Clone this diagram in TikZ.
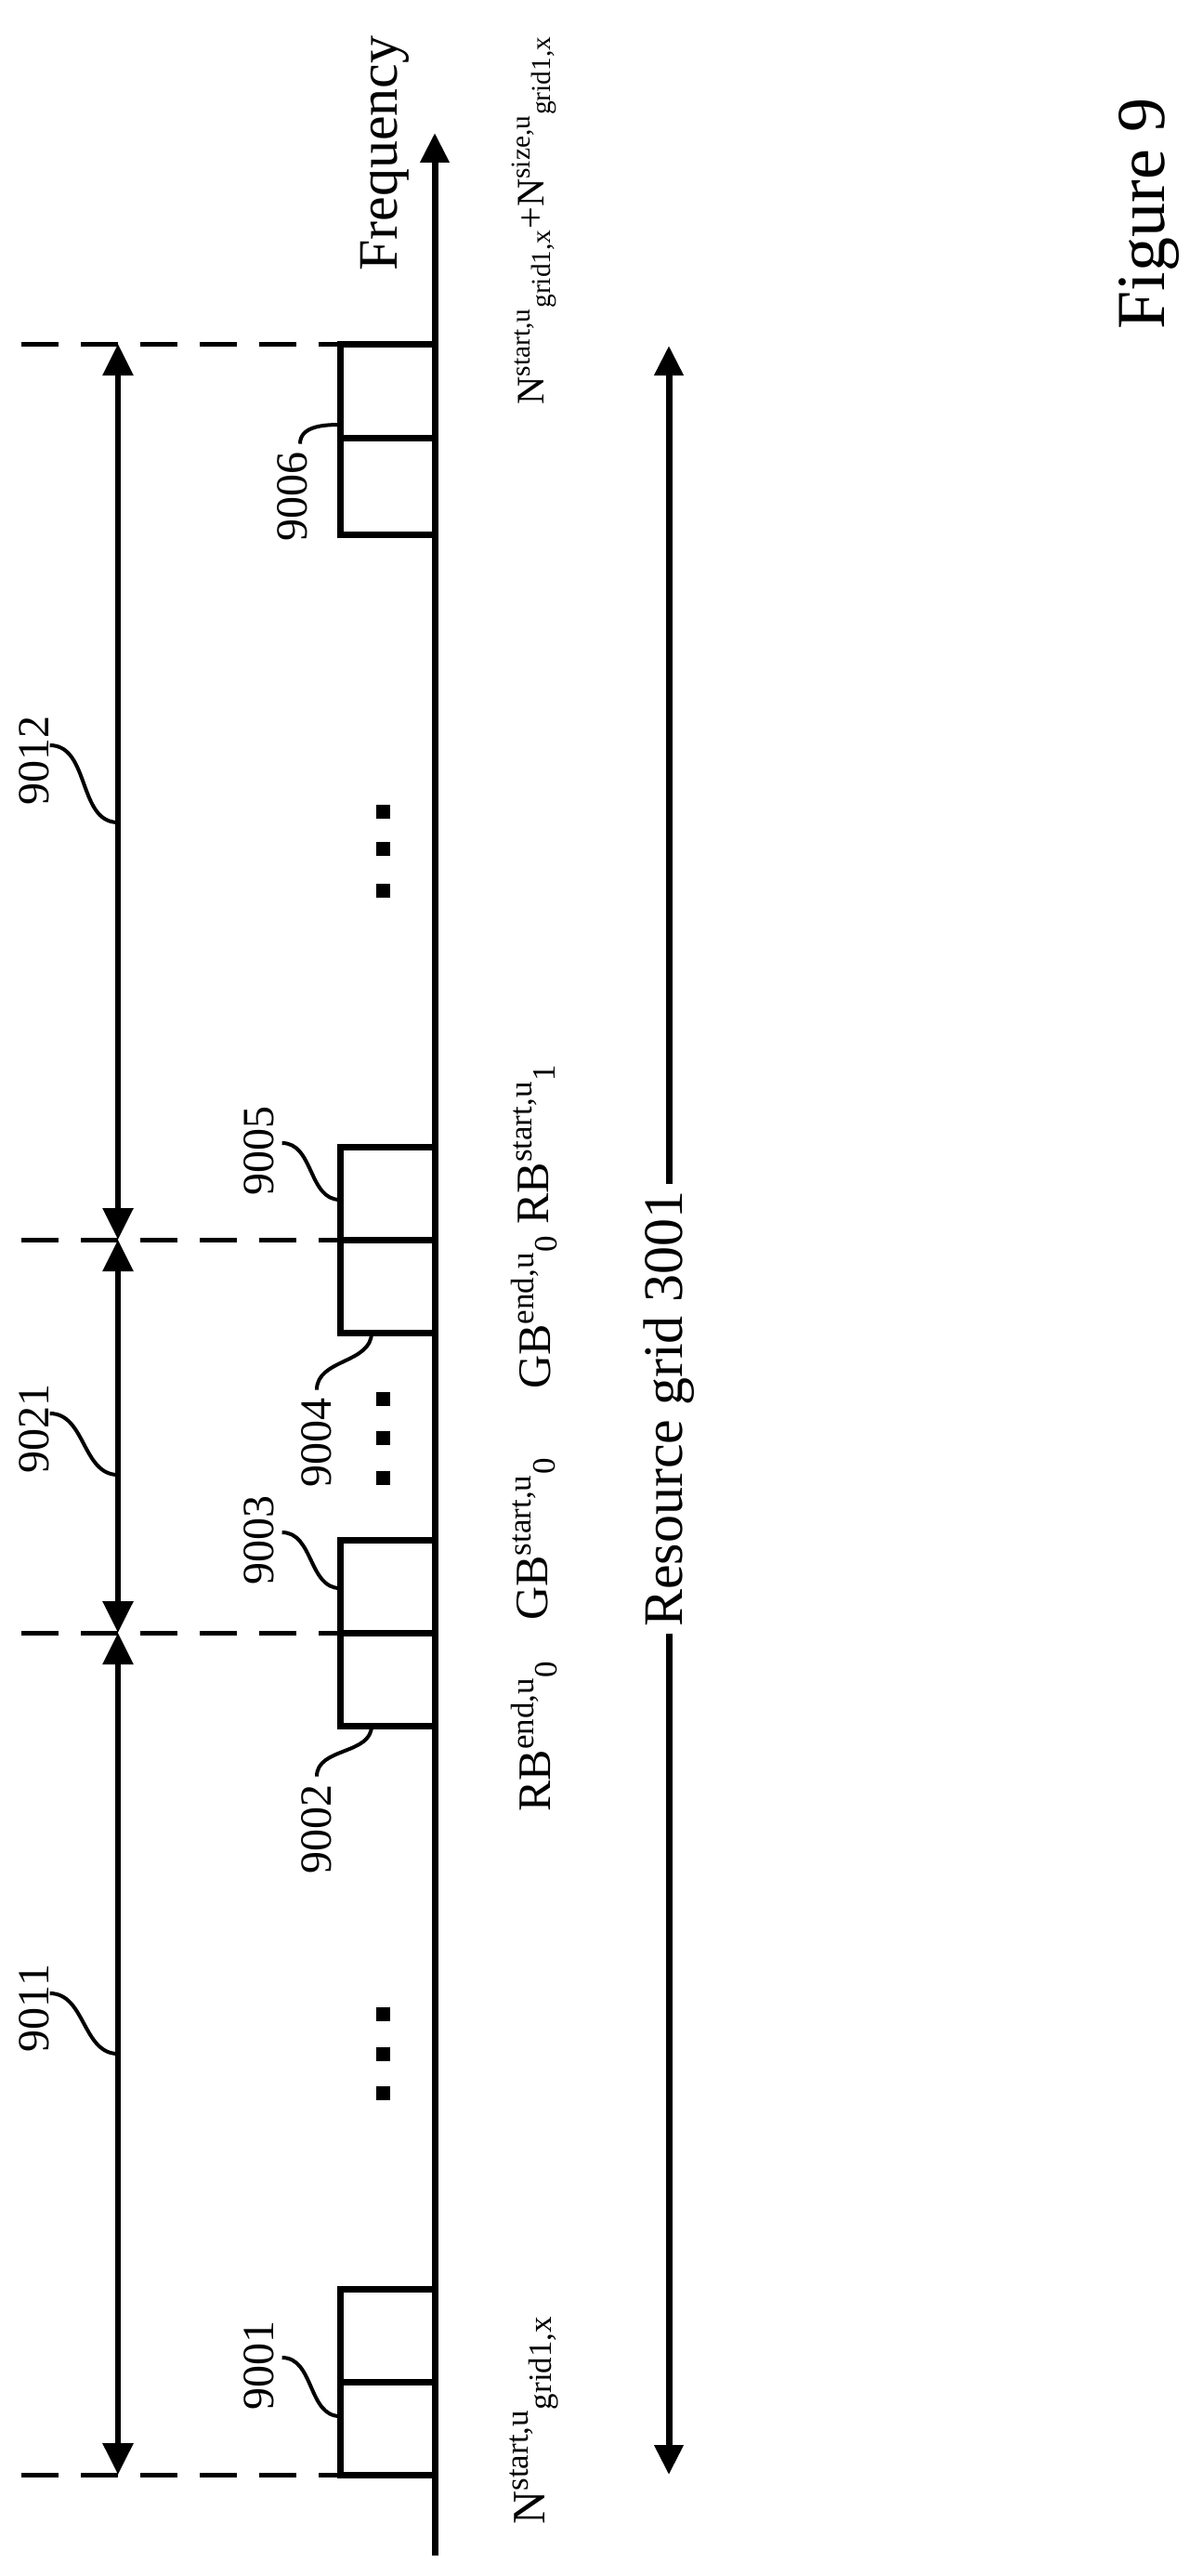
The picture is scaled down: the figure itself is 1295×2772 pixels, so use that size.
\documentclass[tikz,border=0pt]{standalone}
\usepackage{fontspec}
\usepackage{amsmath}
\setmainfont{Liberation Serif}
\usetikzlibrary{arrows.meta}
\newcommand{\sym}[3]{#1$^{\text{#2}}{}_{\text{#3}}$}
\tikzset{
  axis/.style    = {line width=3.5pt, -{Triangle[length=16pt,width=15pt]}},
  span/.style    = {line width=3pt, {Triangle[length=17pt,width=16pt]}-{Triangle[length=17pt,width=16pt]}},
  guide/.style   = {line width=2.5pt, dash pattern=on 20pt off 12pt},
  cell/.style    = {line width=3.5pt},
  leader/.style  = {line width=2pt},
  refnum/.style  = {rotate=90, inner sep=0pt, font=\fontsize{24}{24}\selectfont},
  bound/.style   = {rotate=90, inner sep=0pt, anchor=west, font=\fontsize{25}{25}\selectfont},
  dot/.style     = {fill, minimum size=7.5pt, inner sep=0pt}
}

\begin{document}
\begin{tikzpicture}[x=0.5pt, y=-0.5pt]
  \useasboundingbox (0,0) rectangle (1295,2772);

  % frequency axis
  \coordinate (f0) at (468,2750);
  \coordinate (f1) at (468,143);
  \draw[axis] (f0) -- (f1);
  \node[rotate=90, font=\fontsize{30}{30}\selectfont] (freq) at (414,165) {Frequency};

  % resource blocks
  \foreach \top/\mid/\bot in {2463/2563/2663, 1657/1757/1857, 1234/1334/1434, 370/471/575}{
    \draw[cell] (468,\top) -- (366,\top) -- (366,\bot) -- (468,\bot);
    \draw[cell] (366,\mid) -- (468,\mid);
  }

  % boundaries
  \foreach \y/\n in {370/a, 1334/b, 1757/c, 2663/d}{
    \coordinate (g\n) at (23,\y);
    \coordinate (s\n) at (127,\y);
    \draw[guide] (g\n) -- (366,\y);
  }
  \draw[span] (sd) -- (sc);
  \draw[span] (sc) -- (sb);
  \draw[span] (sb) -- (sa);

  % dots
  \foreach \y in {2167,2210,2252, 1505,1547,1590, 873,913,958}
    \node[dot] at (412,\y) {};

  % reference numbers
  \node[refnum] (n9011) at (37,2161) {9011};
  \node[refnum] (n9021) at (37,1537) {9021};
  \node[refnum] (n9012) at (37,818) {9012};
  \node[refnum] (n9001) at (279,2545) {9001};
  \node[refnum] (n9002) at (341,1968) {9002};
  \node[refnum] (n9003) at (279,1657) {9003};
  \node[refnum] (n9004) at (341,1552) {9004};
  \node[refnum] (n9005) at (279,1238) {9005};
  \node[refnum] (n9006) at (315,534) {9006};

  \coordinate (p9011) at (127,2210);
  \coordinate (p9021) at (127,1587);
  \coordinate (p9012) at (127,885);
  \coordinate (p9001) at (366,2600);
  \coordinate (p9002) at (400,1857);
  \coordinate (p9003) at (366,1709);
  \coordinate (p9004) at (400,1434);
  \coordinate (p9005) at (366,1291);
  \coordinate (p9006) at (366,457);

  \draw[leader] (p9011) to[out=180,in=0] ([yshift=8pt]n9011.south);
  \draw[leader] (p9021) to[out=180,in=0] ([yshift=8pt]n9021.south);
  \draw[leader] (p9012) to[out=180,in=0] ([yshift=8pt]n9012.south);
  \draw[leader] (p9001) to[out=180,in=0] ([xshift=4pt,yshift=4pt]n9001.south);
  \draw[leader] (p9003) to[out=180,in=0] ([xshift=4pt,yshift=4pt]n9003.south);
  \draw[leader] (p9005) to[out=180,in=0] ([xshift=4pt,yshift=4pt]n9005.south);
  \draw[leader] (p9002) to[out=270,in=90] ([yshift=4pt]n9002.east);
  \draw[leader] (p9004) to[out=270,in=90] ([yshift=4pt]n9004.east);
  \draw[leader] (p9006) to[out=180,in=90] ([xshift=4pt,yshift=4pt]n9006.east);

  % boundary symbols
  \node[bound] (b0) at (575,2717) {\sym{N}{start,u}{grid1,x}};
  \node[bound] (b1) at (575,1950) {\sym{RB}{end,u}{0}};
  \node[bound] (b2) at (575,1744) {\sym{GB}{start,u}{0}};
  \node[bound] (b3) at (575,1495) {\sym{GB}{end,u}{0}};
  \node[bound] (b4) at (575,1318) {\sym{RB}{start,u}{1}};
  \node[bound, font=\fontsize{21}{21}\selectfont] (b5) at (575,436) {\sym{N}{start,u}{grid1,x}+\sym{N}{size,u}{grid1,x}};

  % resource grid
  \node[rotate=90, font=\fontsize{30}{30}\selectfont] (grid) at (720,1516) {Resource grid 3001};
  \coordinate (r0) at (720,2663);
  \coordinate (r1) at (720,372);
  \draw[axis] (grid.east) -- (r1);
  \draw[axis] (grid.west) -- (r0);

  \node[rotate=90, font=\fontsize{37}{37}\selectfont] (fig) at (1237,230) {Figure 9};
\end{tikzpicture}
\end{document}
